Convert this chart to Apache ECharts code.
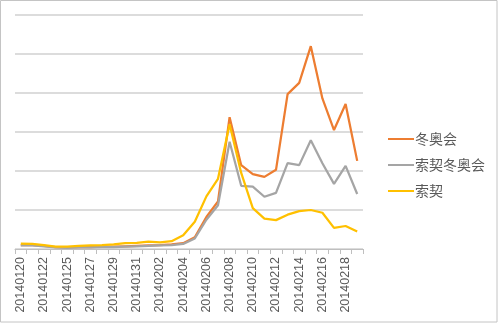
<!DOCTYPE html>
<html>
<head>
<meta charset="utf-8">
<script src="https://cdn.jsdelivr.net/npm/echarts@6/dist/echarts.min.js"></script>
<style>
  html, body { margin: 0; padding: 0; background: #fff; }
  #chart { width: 500px; height: 325px; }
</style>
</head>
<body>
<div id="chart"></div>
<script>
// Daily dates (one day in late January has no record)
const dates = [
  '20140120','20140121','20140122','20140123','20140125','20140126','20140127','20140128',
  '20140129','20140130','20140131','20140201','20140202','20140203','20140204','20140205',
  '20140206','20140207','20140208','20140209','20140210','20140211','20140212','20140213',
  '20140214','20140215','20140216','20140217','20140218','20140219'
];

const olympics = [
  10, 10, 8, 5, 4, 5, 5, 6, 6, 7, 8, 9, 10, 12, 15, 30,
  82, 122, 338, 215, 192, 185, 203, 397, 426, 520, 386, 305, 372, 226
];

const sochiOlympics = [
  9, 9, 7, 4, 3, 4, 4, 5, 5, 6, 7, 8, 9, 10, 13, 27,
  75, 112, 275, 162, 160, 134, 144, 220, 215, 279, 220, 167, 213, 141
];

const sochi = [
  14, 13, 10, 6, 6, 8, 9, 10, 12, 15, 16, 19, 17, 20, 35, 70,
  135, 180, 320, 195, 105, 78, 74, 88, 97, 100, 93, 54, 59, 45
];

const seriesNames = ['冬奥会', '索契冬奥会', '索契'];
const seriesColors = ['#ED7D31', '#A5A5A5', '#FFC000'];
const seriesData = [olympics, sochiOlympics, sochi];

const chart = echarts.init(document.getElementById('chart'), null, { renderer: 'canvas' });

chart.setOption({
  animation: false,
  backgroundColor: '#ffffff',
  graphic: [{
    type: 'rect',
    shape: { x: 0.5, y: 0.5, width: 496.5, height: 321.5 },
    style: { fill: 'none', stroke: '#c4c4c4', lineWidth: 1 },
    silent: true
  }],
  grid: { left: 15, top: 15, width: 348, height: 234 },
  legend: {
    orient: 'vertical',
    left: 383,
    top: 127,
    icon: 'rect',
    itemWidth: 26,
    itemHeight: 2,
    itemGap: 12,
    data: seriesNames,
    textStyle: {
      fontFamily: 'Noto Sans CJK SC',
      fontSize: 14,
      lineHeight: 14,
      color: '#595959',
      padding: [0, 0, 0, -4]
    }
  },
  xAxis: {
    type: 'category',
    data: dates,
    boundaryGap: true,
    axisLine: { lineStyle: { color: '#bfbfbf', width: 1 } },
    axisTick: { show: true, interval: 0, length: 5, lineStyle: { color: '#bfbfbf' } },
    axisLabel: {
      interval: 1,
      rotate: 90,
      margin: 8,
      fontFamily: 'Liberation Sans',
      fontSize: 12.5,
      color: '#595959'
    },
    splitLine: { show: false }
  },
  yAxis: {
    type: 'value',
    min: 0,
    max: 600,
    interval: 100,
    axisLine: { show: false },
    axisTick: { show: false },
    axisLabel: { show: false },
    splitLine: { lineStyle: { color: '#d0d0d0', width: 1.5 } }
  },
  series: seriesNames.map((name, i) => ({
    name: name,
    type: 'line',
    data: seriesData[i],
    symbol: 'none',
    smooth: false,
    color: seriesColors[i],
    lineStyle: { width: 2.25, color: seriesColors[i] },
    z: 2 + i
  }))
});
</script>
</body>
</html>
